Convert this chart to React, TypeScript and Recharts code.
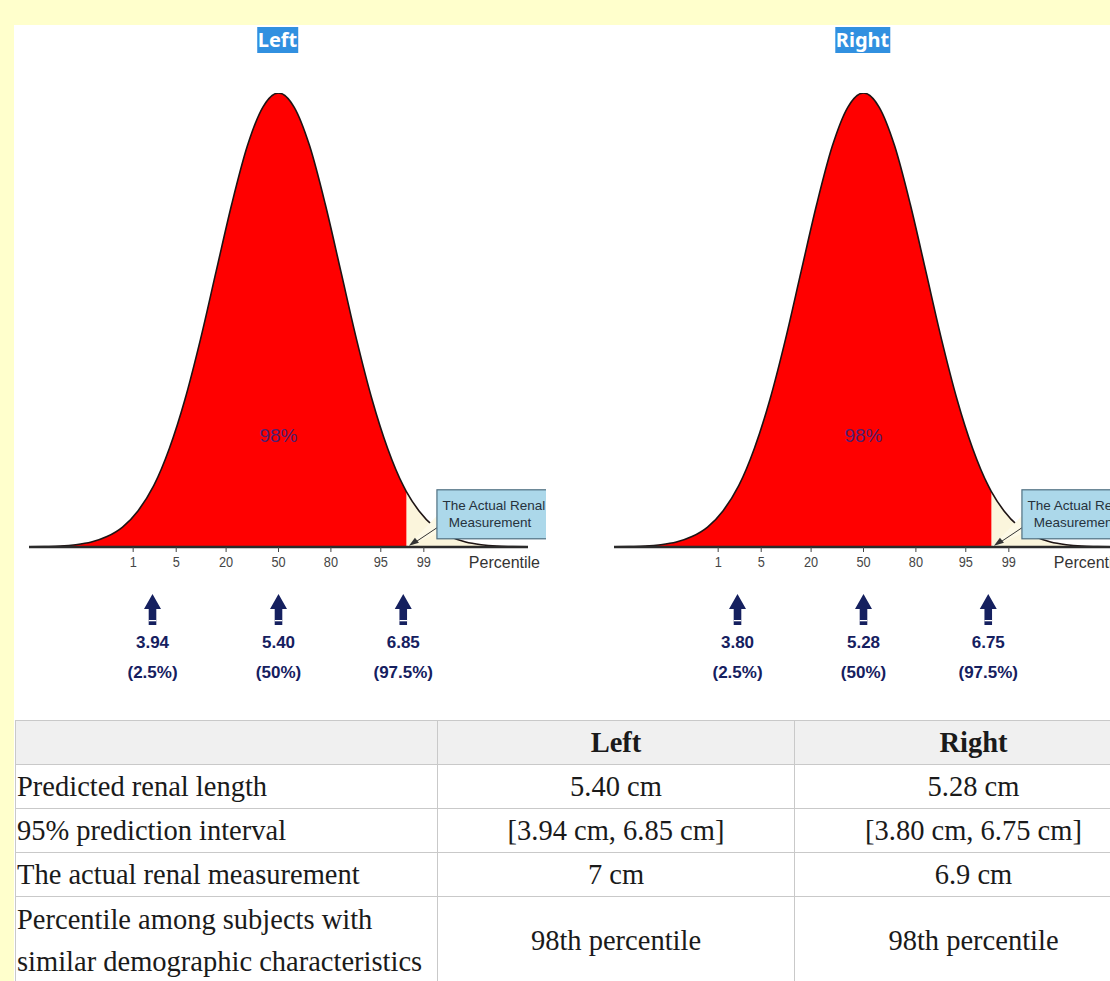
import React from 'react'
import { ComposedChart, Area, Line, XAxis, YAxis, ReferenceDot } from 'recharts'

// curve, x in standard-deviation units, height relative to the peak
const zValues = [
  -4, -3.75, -3.5, -3.25, -3, -2.75, -2.5, -2.25, -2, -1.75, -1.5, -1.25, -1, -0.75, -0.5, -0.25,
  0, 0.25, 0.5, 0.75, 1, 1.25, 1.5, 1.75, 2, 2.05, 2.25, 2.5, 2.75, 3, 3.25, 3.5, 3.75, 4,
]
const curveHeights = [
  0.0003, 0.001, 0.002, 0.005, 0.011, 0.023, 0.044, 0.08, 0.135, 0.217, 0.325, 0.458, 0.607, 0.755, 0.883, 0.969,
  1, 0.969, 0.883, 0.755, 0.607, 0.458, 0.325, 0.217, 0.135, 0.122, 0.08, 0.044, 0.023, 0.011, 0.005, 0.002, 0.001, 0.0003,
]
const shadedUpTo = 2.05 // 98th percentile
const shadedLabel = '98%'

const tickZ = [-2.33, -1.64, -0.84, 0, 0.84, 1.64, 2.33]
const tickPercentiles = ['1', '5', '20', '50', '80', '95', '99']

const markerZ = [-2.02, 0, 2.0]
const markerShares = ['(2.5%)', '(50%)', '(97.5%)']
const leftMarkerValues = ['3.94', '5.40', '6.85']
const rightMarkerValues = ['3.80', '5.28', '6.75']

const sides = ['Left', 'Right']

const rowLabels = [
  'Predicted renal length',
  '95% prediction interval',
  'The actual renal measurement',
  'Percentile among subjects with similar demographic characteristics',
]
const leftColumn = ['5.40 cm', '[3.94 cm, 6.85 cm]', '7 cm', '98th percentile']
const rightColumn = ['5.28 cm', '[3.80 cm, 6.75 cm]', '6.9 cm', '98th percentile']

const chartData = zValues.map((z, i) => ({
  z,
  h: curveHeights[i],
  red: z <= shadedUpTo ? curveHeights[i] : null,
  cream: z >= shadedUpTo ? curveHeights[i] : null,
}))

const SANS = '"Liberation Sans", Arial, sans-serif'
const SERIF = '"Liberation Serif", "Times New Roman", serif'
const NAVY = '#15205f'

function PercentileTick(props: any) {
  const { x, y, payload } = props
  return (
    <text
      transform={`translate(${x},${y + 15}) scale(0.85,1)`}
      textAnchor="middle"
      fontFamily={SANS}
      fontSize={15}
      style={{ fill: '#454545' }}
    >
      {tickPercentiles[tickZ.indexOf(payload.value)]}
    </text>
  )
}

function MarkerTick(props: any) {
  const { x, y, payload, values } = props
  const i = markerZ.indexOf(payload.value)
  return (
    <g transform={`translate(${x},${y})`}>
      <path d="M0 17 L8.5 32 L3.8 32 L3.8 48 L-3.8 48 L-3.8 32 L-8.5 32 Z" fill={NAVY} />
      <rect x={-3.8} y={43} width={7.6} height={1.3} fill="#fff" />
      <text y={71} textAnchor="middle" fontFamily={SANS} fontSize={17} fontWeight="bold" fill={NAVY}>
        {values[i]}
      </text>
      <text y={101} textAnchor="middle" fontFamily={SANS} fontSize={17} fontWeight="bold" fill={NAVY}>
        {markerShares[i]}
      </text>
    </g>
  )
}

function Callout(props: any) {
  const { cx, cy } = props
  return (
    <g>
      <path d={`M${cx} ${cy + 26} L${cx - 29} ${cy + 56} L${cx} ${cy + 44} Z`} fill="#fdf9e6" />
      <line x1={cx} y1={cy + 38} x2={cx - 24} y2={cy + 54} stroke="#333" strokeWidth={1} />
      <path d={`M${cx - 28} ${cy + 56} L${cx - 18} ${cy + 53} L${cx - 22} ${cy + 48} Z`} fill="#333" />
      <rect x={cx} y={cy} width={140} height={49} fill="#acd8ea" stroke="#4f6f80" strokeWidth={1.2} />
      <text x={cx + 57} y={cy + 20} textAnchor="middle" fontFamily={SANS} fontSize={13.5} fill="#26323c">
        The Actual Renal
      </text>
      <text x={cx + 53} y={cy + 37} textAnchor="middle" fontFamily={SANS} fontSize={13.5} fill="#26323c">
        Measurement
      </text>
    </g>
  )
}

function DistributionChart({ values }: { values: string[] }) {
  return (
    <ComposedChart
      width={532}
      height={640}
      data={chartData}
      margin={{ top: 33, right: 18, bottom: 13, left: 15 }}
    >
      <XAxis
        dataKey="z"
        type="number"
        domain={[-4, 4]}
        allowDataOverflow
        ticks={tickZ}
        axisLine={{ stroke: '#2b2b2b', strokeWidth: 2.5 }}
        tickLine={{ stroke: '#444' }}
        tickSize={5}
        tickMargin={0}
        tick={<PercentileTick />}
        height={30}
        label={{
          content: (p: any) => (
            <text
              x={p.viewBox.x + p.viewBox.width + 12}
              y={p.viewBox.y + 21}
              textAnchor="end"
              fontFamily={SANS}
              fontSize={16}
              fill="#333"
            >
              Percentile
            </text>
          ),
        }}
      />
      <XAxis
        xAxisId="marks"
        dataKey="z"
        type="number"
        domain={[-4, 4]}
        allowDataOverflow
        ticks={markerZ}
        axisLine={false}
        tickLine={false}
        tickSize={0}
        tickMargin={0}
        height={110}
        tick={<MarkerTick values={values} />}
      />
      <YAxis hide domain={[0, 1]} allowDataOverflow />
      <Area
        type="monotone"
        dataKey="cream"
        stroke="none"
        fill="#fbf5dc"
        fillOpacity={1}
        baseValue={0}
        isAnimationActive={false}
      />
      <Area
        type="monotone"
        dataKey="red"
        stroke="none"
        fill="#ff0000"
        fillOpacity={1}
        baseValue={0}
        isAnimationActive={false}
      />
      <Line
        type="monotone"
        dataKey="h"
        stroke="#1e1414"
        strokeWidth={1.6}
        dot={false}
        isAnimationActive={false}
      />
      <ReferenceDot
        x={0}
        y={0.247}
        r={0}
        ifOverflow="visible"
        label={{ value: shadedLabel, position: 'center', fill: '#4f1f70', fontSize: 19, fontFamily: SANS }}
      />
      <ReferenceDot x={2.54} y={0.126} r={0} ifOverflow="visible" shape={(p: any) => <Callout {...p} />} />
    </ComposedChart>
  )
}

const cell: React.CSSProperties = {
  border: '1px solid #c9c9c9',
  padding: '0 1px',
  fontFamily: SERIF,
  fontSize: 28.5,
  color: '#1a1a1a',
  lineHeight: '42px',
}

export default function App() {
  const charts = [leftMarkerValues, rightMarkerValues]
  return (
    <div
      style={{
        position: 'absolute',
        left: 0,
        top: 0,
        width: 1110,
        height: 981,
        background: '#ffffcc',
        overflow: 'hidden',
      }}
    >
      <div style={{ position: 'absolute', left: 14, top: 25, width: 1096, height: 956, background: '#fff' }} />
      {charts.map((vals, k) => (
        <React.Fragment key={sides[k]}>
          <div
            style={{
              position: 'absolute',
              left: 277.5 + k * 585,
              top: 27,
              transform: 'translateX(-50%)',
              background: '#3190e0',
              color: '#fff',
              fontFamily: '"Noto Sans", "Open Sans", sans-serif',
              fontWeight: 'bold',
              fontSize: 20,
              lineHeight: '26px',
              padding: '0 1px',
            }}
          >
            {sides[k]}
          </div>
          <div style={{ position: 'absolute', left: 14 + k * 585, top: 60 }}>
            <DistributionChart values={vals} />
          </div>
        </React.Fragment>
      ))}
      <table
        style={{
          position: 'absolute',
          left: 15,
          top: 720,
          borderCollapse: 'collapse',
          tableLayout: 'fixed',
          width: 1137,
        }}
      >
        <colgroup>
          <col style={{ width: 422 }} />
          <col style={{ width: 357 }} />
          <col style={{ width: 358 }} />
        </colgroup>
        <thead>
          <tr style={{ height: 44, background: '#f0f0f0' }}>
            <th style={cell}></th>
            {sides.map((s) => (
              <th key={s} style={{ ...cell, fontWeight: 'bold', textAlign: 'center' }}>
                {s}
              </th>
            ))}
          </tr>
        </thead>
        <tbody>
          {rowLabels.map((label, i) => (
            <tr key={label} style={{ height: i === 3 ? 88 : 44 }}>
              <td style={{ ...cell, textAlign: 'left' }}>{label}</td>
              <td style={{ ...cell, textAlign: 'center' }}>{leftColumn[i]}</td>
              <td style={{ ...cell, textAlign: 'center' }}>{rightColumn[i]}</td>
            </tr>
          ))}
        </tbody>
      </table>
    </div>
  )
}
